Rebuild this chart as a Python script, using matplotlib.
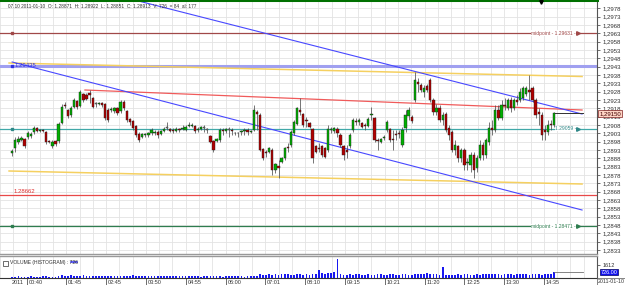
import numpy as np
import matplotlib
matplotlib.use("Agg")
import matplotlib.pyplot as plt
import matplotlib.transforms as mtrans
from matplotlib.patches import Rectangle

plt.rcParams['font.family'] = ['Liberation Sans', 'DejaVu Sans']

# ---------------- data ----------------
opens = [1.28912, 1.28942, 1.28978, 1.2899, 1.28996, 1.29008, 1.29014, 1.29038, 1.29062, 1.29044,
         1.2905, 1.29038, 1.28984, 1.28954, 1.28984, 1.28984, 1.29092, 1.292, 1.2917, 1.2914,
         1.29188, 1.29224, 1.29194, 1.29266, 1.2926, 1.29272, 1.29242, 1.29206, 1.29206, 1.29212,
         1.29206, 1.2917, 1.2917, 1.29164, 1.29182, 1.29164, 1.29218, 1.29164, 1.29116, 1.29104,
         1.29074, 1.29026, 1.29008, 1.2902, 1.2902, 1.29032, 1.29032, 1.29038, 1.29026, 1.29044,
         1.29062, 1.29056, 1.2905, 1.29044, 1.29056, 1.29056, 1.2905, 1.29074, 1.29074, 1.29074,
         1.2905, 1.29056, 1.29062, 1.2905, 1.29014, 1.28984, 1.28984, 1.2899, 1.2905, 1.29044,
         1.2905, 1.2905, 1.29032, 1.29032, 1.29038, 1.29044, 1.2905, 1.29038, 1.2905, 1.29158,
         1.2914, 1.28936, 1.28918, 1.28918, 1.2893, 1.2881, 1.28834, 1.28858, 1.28882, 1.28948,
         1.2896, 1.29032, 1.29086, 1.2917, 1.29146, 1.2911, 1.29092, 1.29056, 1.28954, 1.28942,
         1.28954, 1.28942, 1.2893, 1.2905, 1.29044, 1.29056, 1.2902, 1.28954, 1.2893, 1.28954,
         1.2905, 1.29104, 1.29098, 1.29092, 1.2908, 1.29074, 1.2914, 1.29122, 1.2899, 1.28978,
         1.29002, 1.2905, 1.29056, 1.28996, 1.29026, 1.29032, 1.2896, 1.29062, 1.29134, 1.29128,
         1.2923, 1.29338, 1.2932, 1.29278, 1.29314, 1.2935, 1.2923, 1.29158, 1.29182, 1.2911,
         1.29146, 1.29062, 1.29038, 1.2893, 1.28954, 1.28882, 1.2893, 1.28852, 1.2884, 1.289,
         1.28822, 1.28882, 1.2896, 1.289, 1.28978, 1.29062, 1.2905, 1.2917, 1.29122, 1.292,
         1.29182, 1.2923, 1.29182, 1.2923, 1.2923, 1.29242, 1.29266, 1.2929, 1.29302, 1.2923,
         1.29158, 1.2914, 1.2905, 1.29038, 1.29086, 1.2908]
closes = [1.28924, 1.2899, 1.28996, 1.29002, 1.28954, 1.29032, 1.29026, 1.29062, 1.29044, 1.2905,
          1.29044, 1.28978, 1.28978, 1.28978, 1.28966, 1.29086, 1.29188, 1.29194, 1.29134, 1.29182,
          1.2923, 1.29188, 1.29278, 1.2923, 1.29236, 1.2926, 1.29188, 1.29206, 1.29212, 1.292,
          1.29122, 1.2911, 1.29176, 1.29182, 1.29152, 1.29218, 1.29182, 1.2911, 1.29098, 1.29062,
          1.2902, 1.2899, 1.29026, 1.29026, 1.29032, 1.2905, 1.29038, 1.2902, 1.29044, 1.29056,
          1.29062, 1.29044, 1.29044, 1.29056, 1.2905, 1.29062, 1.29068, 1.2908, 1.2908, 1.29044,
          1.29056, 1.29068, 1.29062, 1.2905, 1.28978, 1.2893, 1.28996, 1.2905, 1.29044, 1.29056,
          1.2905, 1.29044, 1.29032, 1.29032, 1.29044, 1.2905, 1.29038, 1.29044, 1.2917, 1.29146,
          1.2893, 1.28882, 1.28912, 1.28942, 1.2881, 1.28846, 1.28822, 1.28882, 1.28942, 1.28942,
          1.29038, 1.29098, 1.29182, 1.29158, 1.2908, 1.29104, 1.29068, 1.28882, 1.28918, 1.28936,
          1.289, 1.28888, 1.29056, 1.29056, 1.29062, 1.29032, 1.2896, 1.289, 1.28918, 1.2902,
          1.2911, 1.29098, 1.2911, 1.29068, 1.29074, 1.29116, 1.29146, 1.2899, 1.28984, 1.28996,
          1.29008, 1.29098, 1.2899, 1.2899, 1.2902, 1.29026, 1.2905, 1.2914, 1.2917, 1.29104,
          1.2935, 1.29326, 1.2929, 1.29302, 1.2929, 1.2923, 1.29158, 1.29182, 1.2911, 1.2914,
          1.2905, 1.2902, 1.2893, 1.2896, 1.28882, 1.2893, 1.2884, 1.28858, 1.289, 1.2881,
          1.28882, 1.2896, 1.289, 1.2899, 1.29062, 1.2905, 1.2917, 1.29122, 1.292, 1.29194,
          1.2923, 1.29182, 1.2923, 1.29218, 1.29278, 1.29302, 1.29302, 1.29278, 1.2923, 1.2914,
          1.29146, 1.2902, 1.29038, 1.2908, 1.2908, 1.2915]
highs = [1.28936, 1.29008, 1.29014, 1.29014, 1.29002, 1.29044, 1.29038, 1.29074, 1.29068, 1.29056,
         1.29056, 1.29044, 1.2899, 1.2899, 1.2899, 1.29098, 1.29206, 1.29218, 1.29176, 1.29194,
         1.29242, 1.2923, 1.2929, 1.29272, 1.29272, 1.2929, 1.29248, 1.29218, 1.29218, 1.29218,
         1.29212, 1.29182, 1.29188, 1.29188, 1.29188, 1.2923, 1.2923, 1.2917, 1.29122, 1.2911,
         1.2908, 1.29038, 1.29032, 1.29032, 1.29038, 1.29062, 1.2905, 1.2905, 1.2905, 1.29068,
         1.29098, 1.29062, 1.29062, 1.29068, 1.29062, 1.2908, 1.2908, 1.29098, 1.29092, 1.2908,
         1.29068, 1.29074, 1.2908, 1.29062, 1.2902, 1.2899, 1.29002, 1.29062, 1.29062, 1.29062,
         1.29068, 1.29062, 1.29038, 1.29038, 1.2905, 1.29062, 1.29062, 1.2905, 1.292, 1.2917,
         1.29152, 1.28942, 1.2893, 1.28948, 1.28942, 1.28852, 1.2887, 1.28888, 1.28948, 1.28972,
         1.2905, 1.2911, 1.29188, 1.29242, 1.29152, 1.29128, 1.29098, 1.29062, 1.2896, 1.28972,
         1.2896, 1.28948, 1.2908, 1.29068, 1.29068, 1.29068, 1.29032, 1.2896, 1.2896, 1.29032,
         1.29122, 1.29122, 1.29122, 1.29098, 1.29092, 1.29128, 1.29188, 1.29128, 1.29002, 1.29002,
         1.2902, 1.2911, 1.29062, 1.2905, 1.2905, 1.2905, 1.29068, 1.2917, 1.29188, 1.2914,
         1.29398, 1.29362, 1.29332, 1.2932, 1.29326, 1.29362, 1.29242, 1.29206, 1.292, 1.29158,
         1.29158, 1.2908, 1.2905, 1.2899, 1.2896, 1.28942, 1.28942, 1.28882, 1.28918, 1.28918,
         1.289, 1.2899, 1.28978, 1.29002, 1.29098, 1.2911, 1.292, 1.292, 1.2923, 1.29242,
         1.29242, 1.29248, 1.29242, 1.2926, 1.29302, 1.29314, 1.29314, 1.2938, 1.29314, 1.29242,
         1.29182, 1.29158, 1.2908, 1.2911, 1.2911, 1.29158]
lows = [1.28894, 1.28918, 1.28966, 1.28984, 1.28942, 1.28996, 1.29002, 1.29026, 1.29038, 1.29038,
        1.29038, 1.28966, 1.28972, 1.28942, 1.28954, 1.28972, 1.29086, 1.29182, 1.29122, 1.29128,
        1.29182, 1.29176, 1.29188, 1.29218, 1.2923, 1.29212, 1.29182, 1.29188, 1.292, 1.29188,
        1.2911, 1.29098, 1.29158, 1.29152, 1.2914, 1.29152, 1.2917, 1.29098, 1.2908, 1.2905,
        1.29008, 1.28978, 1.29002, 1.29008, 1.29008, 1.2902, 1.2902, 1.29002, 1.2902, 1.29038,
        1.2905, 1.29038, 1.29032, 1.29038, 1.29038, 1.2905, 1.29044, 1.29068, 1.29068, 1.29032,
        1.29038, 1.2905, 1.29038, 1.29032, 1.28972, 1.28918, 1.28978, 1.28978, 1.2902, 1.29032,
        1.29008, 1.2902, 1.2902, 1.29008, 1.2902, 1.2902, 1.2902, 1.29032, 1.29044, 1.2905,
        1.28924, 1.2887, 1.28888, 1.28912, 1.2878, 1.28792, 1.28762, 1.28852, 1.2887, 1.28918,
        1.28948, 1.2902, 1.2908, 1.2914, 1.29068, 1.29068, 1.29062, 1.28852, 1.28912, 1.28918,
        1.28888, 1.28882, 1.28918, 1.29032, 1.29032, 1.29008, 1.28948, 1.2887, 1.28882, 1.28942,
        1.29038, 1.2908, 1.2908, 1.29062, 1.2905, 1.29068, 1.2911, 1.28978, 1.2893, 1.28972,
        1.2899, 1.29038, 1.28978, 1.2893, 1.2899, 1.29002, 1.28948, 1.29038, 1.2911, 1.29092,
        1.29218, 1.29278, 1.29278, 1.29248, 1.29278, 1.29218, 1.2914, 1.2914, 1.29098, 1.2908,
        1.29038, 1.2899, 1.28918, 1.289, 1.28858, 1.28858, 1.2881, 1.2881, 1.28798, 1.28762,
        1.28798, 1.2887, 1.2887, 1.28882, 1.2896, 1.2902, 1.29038, 1.2911, 1.2911, 1.2917,
        1.2917, 1.29158, 1.2917, 1.292, 1.29218, 1.2923, 1.29254, 1.2923, 1.29218, 1.29122,
        1.2908, 1.2899, 1.2899, 1.2902, 1.2905, 1.29068]
volumes = [180, 150, 200, 170, 150, 180, 200, 160, 150, 170,
           190, 200, 180, 150, 170, 200, 320, 300, 280, 350,
           300, 260, 300, 320, 280, 300, 250, 270, 300, 260,
           280, 260, 300, 280, 250, 300, 270, 240, 300, 320,
           280, 260, 240, 280, 300, 250, 260, 230, 280, 300,
           250, 270, 240, 260, 280, 250, 230, 270, 260, 240,
           200, 180, 220, 190, 210, 230, 250, 200, 180, 220,
           200, 190, 210, 230, 200, 180, 220, 210, 200, 240,
           450, 420, 380, 460, 400, 480, 420, 500, 440, 460,
           380, 420, 500, 460, 430, 480, 420, 460, 500, 1000,
           560, 520, 620, 640, 700, 2300, 450, 400, 380, 460,
           420, 500, 440, 380, 420, 460, 400, 380, 440, 480,
           420, 400, 450, 470, 420, 380, 440, 460, 420, 400,
           450, 550, 500, 480, 600, 520, 450, 480, 420, 1350,
           420, 400, 380, 420, 460, 400, 440, 480, 420, 400,
           450, 420, 460, 500, 480, 520, 460, 440, 420, 480,
           500, 460, 420, 440, 480, 500, 460, 420, 440, 480,
           450, 420, 460, 480, 500, 726]

time_labels = ['00:40', '01:45', '02:45', '03:50', '04:55', '06:00', '07:01',
               '08:10', '09:15', '10:21', '11:20', '12:25', '13:30', '14:35']
price_ticks = [1.2978, 1.2973, 1.2968, 1.2963, 1.2958, 1.2953, 1.2948, 1.2943,
               1.2938, 1.2933, 1.2928, 1.2923, 1.2918, 1.2913, 1.2908, 1.2903,
               1.2898, 1.2893, 1.2888, 1.2883, 1.2878, 1.2873, 1.2868, 1.2863,
               1.2858, 1.2853, 1.2848, 1.2843, 1.2838, 1.2833]

midpoint_high = 1.29631
midpoint_low = 1.28471
level_blue = 1.29435
level_teal = 1.29059
level_red = 1.28662
last_price = 1.29150
last_volume = 726

# trend lines: (bar index, price) pairs
upper_blue = ([0, 184], [1.30017, 1.29146])
lower_blue = ([0, 184], [1.29458, 1.28570])
red_trend = ([23.5, 184], [1.29290, 1.29170])
yellow_top = ([-1, 184], [1.29452, 1.29371])
yellow_bottom = ([-1, 184], [1.28804, 1.28726])

header = "07.10 2011-01-10  O: 1.28871  H: 1.28922  L: 1.28851  C: 1.28913  V: 726  = 84  al: 177"

# ---------------- figure ----------------
W, H = 625, 285
fig = plt.figure(figsize=(W / 100, H / 100), dpi=100)
fig.patch.set_facecolor('white')

PX = 3.23   # pixels per bar
X0 = 2.0
def px2i(px):
    return (px - X0) / PX

xlim = (px2i(0), px2i(597))
n = len(closes)
x = np.arange(n)
o = np.array(opens); c = np.array(closes); h = np.array(highs); l = np.array(lows)

ax = fig.add_axes([0, 1 - 254 / H, 597 / W, 254 / H])
axv = fig.add_axes([0, 1 - 278 / H, 597 / W, 22 / H])

for a in (ax, axv):
    a.set_xlim(*xlim)
    a.set_facecolor('white')

ax.set_ylim(1.28306, 1.29830)

# grid
grid_pos = [4.64 + 12.85 * k / 3 for k in range(-2, 44)]
label_pos = [4.64 + 12.85 * k for k in range(len(time_labels))]
for a in (ax, axv):
    a.set_xticks(grid_pos, minor=True)
    a.grid(which='minor', axis='x', color='#e3e3e3', lw=0.6, zorder=0)
    a.tick_params(which='minor', length=0)
ax.set_xticks([])
ax.set_yticks(price_ticks)
ax.grid(axis='y', color='#e3e3e3', lw=0.6, zorder=0)
ax.yaxis.tick_right()
ax.tick_params(axis='y', length=2.5, width=0.5, pad=1.5, labelsize=4.3, colors='#333333')
ax.set_yticklabels([f"{t:.4f}".replace('.', ',') for t in price_ticks])

for s in ('left',):
    ax.spines[s].set_visible(False)
    axv.spines[s].set_visible(False)
ax.spines['right'].set_color('#555555'); ax.spines['right'].set_linewidth(0.8)
ax.spines['top'].set_color('#007000'); ax.spines['top'].set_linewidth(2.2)
ax.spines['bottom'].set_color('#999999'); ax.spines['bottom'].set_linewidth(1.0)

# horizontal levels
ax.axhline(midpoint_high, color='#a04848', lw=0.9, zorder=2)
ax.axhline(level_blue, color='#a0a0f0', lw=2.2, zorder=2)
ax.axhline(level_teal, color='#40a8a8', lw=0.9, zorder=2)
ax.axhline(level_red, color='#e84848', lw=0.9, zorder=2)
ax.axhline(midpoint_low, color='#2e7d4f', lw=0.9, zorder=2)

# trend lines
ax.plot(*yellow_top, color='#f5d060', lw=1.1, zorder=2)
ax.plot(*yellow_bottom, color='#f5d060', lw=1.1, zorder=2)
ax.plot(*red_trend, color='#f05a5a', lw=0.9, zorder=2)
ax.plot(*upper_blue, color='#4848ff', lw=0.8, zorder=2)
ax.plot(*lower_blue, color='#4848ff', lw=0.8, zorder=2)

# candles
body_col = np.where(c > o, '#00b000', np.where(c < o, '#b00000', '#a0a0a0'))
ax.vlines(x, l, h, color='#505050', lw=0.55, zorder=3)
ax.bar(x, np.maximum(np.abs(c - o), 0.00003), bottom=np.minimum(o, c), width=0.74,
       color=body_col, edgecolor='#202020', linewidth=0.3, zorder=4)

# last price line and label
ax.plot([x[-1], xlim[1]], [last_price, last_price], color='#303030', lw=0.7, zorder=3)
bt = mtrans.blended_transform_factory(ax.transAxes, ax.transData)
ax.text(1.004, last_price, f"{last_price:.5f}".replace('.', ','), transform=bt, ha='left', va='center',
        fontsize=4.3, color='#400000', clip_on=False, zorder=6,
        bbox=dict(boxstyle='square,pad=0.15', fc='#ffd5c5', ec='#802020', lw=0.5))

# right labels on levels
for price, txt, col in [(midpoint_high, f"midpoint - {midpoint_high:.5f} -", '#a04848'),
                        (level_teal, f"{level_teal:.5f} -", '#308888'),
                        (midpoint_low, f"midpoint - {midpoint_low:.5f} -", '#2e7d4f')]:
    ax.text(px2i(590), price, txt, ha='right', va='center', fontsize=3.6, color=col, zorder=5,
            bbox=dict(boxstyle='square,pad=0.05', fc='white', ec='none'))
    ax.plot(px2i(592.5), price, marker='>', ms=2.6, color=col, zorder=6, clip_on=False)
    ax.plot(px2i(1.5), price, marker='s', ms=2.0, color=col, zorder=6, clip_on=False)

# left labels
ax.text(px2i(5), level_blue, f"{level_blue:.5f}", ha='left', va='center', fontsize=4.3,
        color='#3030e0', zorder=5)
ax.plot(px2i(1.5), level_blue, marker='s', ms=2.0, color='#3030e0', zorder=6, clip_on=False)
ax.text(px2i(3), level_red + 0.00003, f"{level_red:.5f}", ha='left', va='bottom', fontsize=4.3,
        color='#e03030', zorder=5)

# header and marker
ax.text(8 / 597, 1 - 6 / 254, header, transform=ax.transAxes, ha='left', va='center',
        fontsize=3.4, color='#303030', zorder=6)
ax.plot(px2i(553), 1.29815, marker='v', ms=2.5, color='black', zorder=7, clip_on=False)

# ---------------- volume pane ----------------
axv.set_ylim(0, 2730)
axv.bar(x, volumes, width=0.55, color='#1818f0', zorder=3)
axv.plot([x[-1], xlim[1]], [last_volume, last_volume], color='#707070', lw=0.6, zorder=3)
axv.set_yticks([1612])
axv.yaxis.tick_right()
axv.tick_params(axis='y', length=2.5, width=0.5, pad=1.5, labelsize=4.0, colors='#333333')
axv.set_yticklabels(['1612'])
axv.spines['right'].set_color('#555555'); axv.spines['right'].set_linewidth(0.8)
axv.spines['top'].set_color('#999999'); axv.spines['top'].set_linewidth(1.0)
axv.spines['bottom'].set_color('#333333'); axv.spines['bottom'].set_linewidth(0.8)
btv = mtrans.blended_transform_factory(axv.transAxes, axv.transData)
axv.text(1.006, last_volume, f"{last_volume:.2f}", transform=btv, ha='left', va='center',
         fontsize=4.0, color='white', clip_on=False, zorder=6,
         bbox=dict(boxstyle='square,pad=0.15', fc='#1010ee', ec='#000060', lw=0.5))
axv.add_patch(Rectangle((3 / 597, 0.55), 5 / 597, 5 / 22, transform=axv.transAxes,
                        fill=False, ec='#333333', lw=0.5, zorder=5))
axv.text(10 / 597, 0.72, f"VOLUME (HISTOGRAM) : {last_volume}", transform=axv.transAxes,
         ha='left', va='center', fontsize=3.6, color='#303030', zorder=5)
axv.plot([71 / 597, 77 / 597], [0.72, 0.72], transform=axv.transAxes, color='#4040ff', lw=1.2)

# time axis
axv.set_xticks(label_pos)
axv.set_xticklabels([])
axv.tick_params(axis='x', which='major', length=5.5, width=0.5, color='#333333', direction='out')
btx = mtrans.blended_transform_factory(axv.transData, axv.transAxes)
for p, t in zip(label_pos, time_labels):
    axv.text(p + 0.6, -0.08, t, transform=btx, ha='left', va='top', fontsize=4.0,
             color='#333333', clip_on=False)
axv.text(px2i(1), -0.08, '2011', transform=btx, ha='left', va='top', fontsize=4.0,
         color='#333333', clip_on=False)
fig.text(598 / W, 1 - 281.5 / H, '2011-01-10', ha='left', va='center', fontsize=3.8, color='#333333',
         bbox=dict(boxstyle='square,pad=0.15', fc='white', ec='#555555', lw=0.5))

fig.savefig('out.png', dpi=100, facecolor='white')
